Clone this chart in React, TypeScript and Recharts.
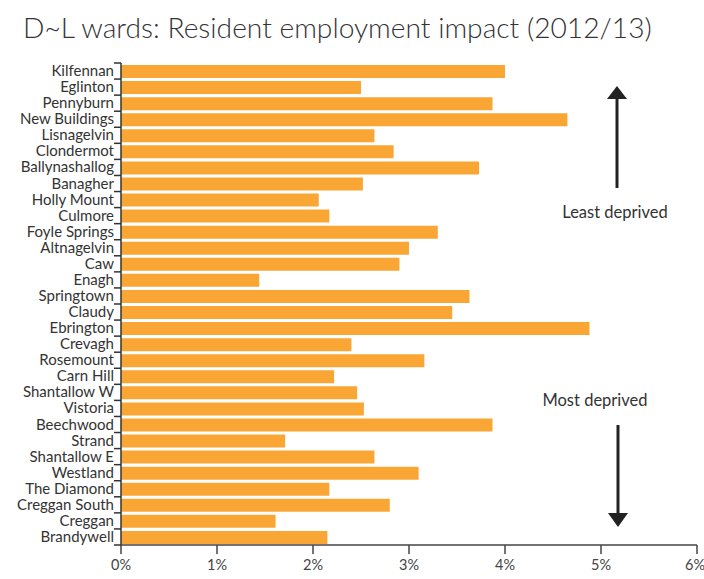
import React from 'react'
import { BarChart, Bar, XAxis, YAxis, Customized } from 'recharts'

const wards = [
  'Kilfennan', 'Eglinton', 'Pennyburn', 'New Buildings', 'Lisnagelvin', 'Clondermot',
  'Ballynashallog', 'Banagher', 'Holly Mount', 'Culmore', 'Foyle Springs', 'Altnagelvin',
  'Caw', 'Enagh', 'Springtown', 'Claudy', 'Ebrington', 'Crevagh', 'Rosemount', 'Carn Hill',
  'Shantallow W', 'Vistoria', 'Beechwood', 'Strand', 'Shantallow E', 'Westland',
  'The Diamond', 'Creggan South', 'Creggan', 'Brandywell',
]

const impact = [
  4.0, 2.5, 3.87, 4.65, 2.64, 2.84,
  3.73, 2.52, 2.06, 2.17, 3.3, 3.0,
  2.9, 1.44, 3.63, 3.45, 4.88, 2.4, 3.16, 2.22,
  2.46, 2.53, 3.87, 1.71, 2.64, 3.1,
  2.17, 2.8, 1.61, 2.15,
]

const xTicks = [0, 1, 2, 3, 4, 5, 6]

const data = wards.map((ward, i) => ({ ward, value: impact[i] }))

const W = 704
const H = 579
const TOP = 63
const PLOT_BOTTOM = 545
const AXIS_X = 121
const BAND = (PLOT_BOTTOM - TOP) / wards.length
const FONT = 'Lato, "Open Sans", sans-serif'

const WardTick = (props: any) => {
  const { y, payload, index } = props
  const half = BAND / 2
  return (
    <g>
      <text
        x={AXIS_X - 7}
        y={y}
        dy={5}
        textAnchor="end"
        fill="#333"
        fontSize={15}
        fontFamily={FONT}
      >
        {payload.value}
      </text>
      <line x1={AXIS_X - 7} x2={AXIS_X} y1={y - half} y2={y - half} stroke="#333" strokeWidth={1.5} />
      {index === wards.length - 1 && (
        <line x1={AXIS_X - 7} x2={AXIS_X} y1={y + half} y2={y + half} stroke="#333" strokeWidth={1.5} />
      )}
    </g>
  )
}

const PercentTick = (props: any) => {
  const { x, y, payload, index } = props
  const last = index === xTicks.length - 1
  return (
    <text
      x={x}
      y={y}
      dy={14}
      textAnchor={last ? 'end' : 'middle'}
      dx={last ? 8 : 0}
      fill="#444"
      fontSize={14.5}
      fontFamily={FONT}
    >
      {payload.value}%
    </text>
  )
}

const Annotations = () => (
  <g fontFamily={FONT} fill="#333">
    <line x1={617} x2={617} y1={188} y2={97} stroke="#222" strokeWidth={3} />
    <polygon points="607,99 627,99 617,86" fill="#222" />
    <text x={615} y={218} textAnchor="middle" fontSize={16.5}>Least deprived</text>
    <text x={595} y={406} textAnchor="middle" fontSize={16.5}>Most deprived</text>
    <line x1={618} x2={618} y1={425} y2={515} stroke="#222" strokeWidth={3} />
    <polygon points="608,513 628,513 618,527" fill="#222" />
  </g>
)

export default function App() {
  return (
    <div style={{ position: 'relative', width: W, height: H, background: '#fff' }}>
      <style>{'body{margin:0}'}</style>
      <div
        style={{
          position: 'absolute',
          left: 23,
          top: 10,
          fontFamily: FONT,
          fontWeight: 300,
          fontSize: 28.2,
          color: '#333',
          whiteSpace: 'nowrap',
        }}
      >
        D~L wards: Resident employment impact (2012/13)
      </div>
      <BarChart
        width={W}
        height={H}
        data={data}
        layout="vertical"
        margin={{ top: TOP, right: 7, bottom: H - PLOT_BOTTOM - 30, left: 0 }}
        barSize={13}
      >
        <XAxis
          type="number"
          domain={[0, 6]}
          ticks={xTicks}
          height={30}
          stroke="#444"
          strokeWidth={1.5}
          tickSize={9}
          tick={<PercentTick />}
        />
        <YAxis
          type="category"
          dataKey="ward"
          width={AXIS_X}
          stroke="#333"
          strokeWidth={1.5}
          tickLine={false}
          interval={0}
          tick={<WardTick />}
        />
        <Bar dataKey="value" fill="#FAA634" isAnimationActive={false} />
        <Customized component={Annotations} />
      </BarChart>
    </div>
  )
}
